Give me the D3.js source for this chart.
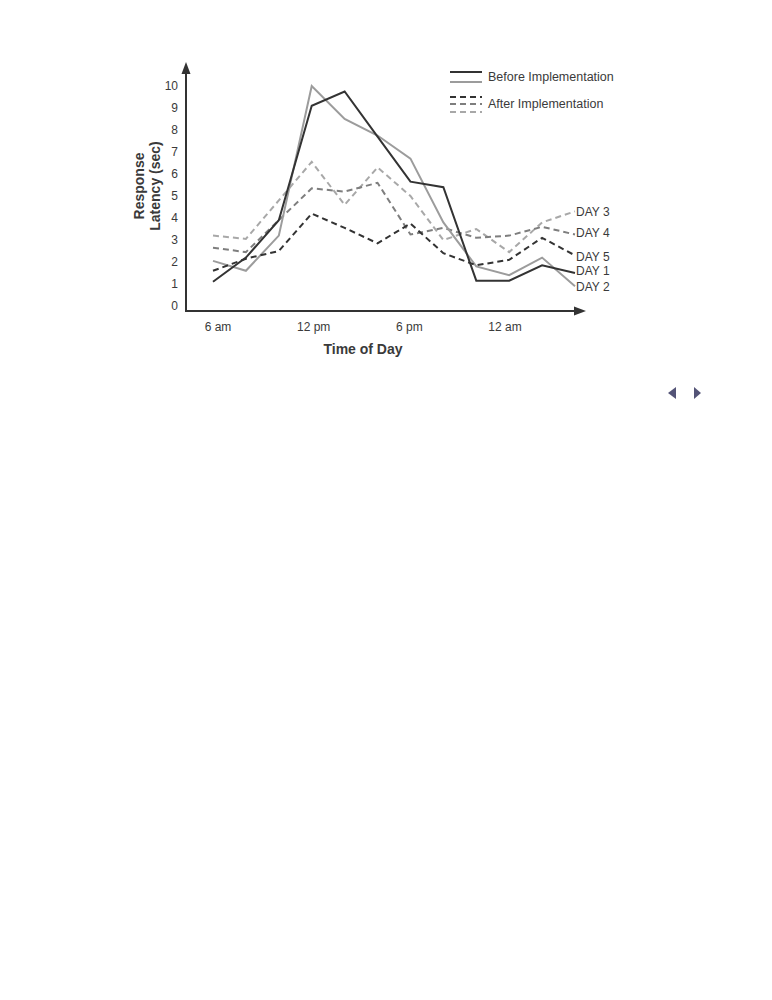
<!DOCTYPE html>
<html>
<head>
<meta charset="utf-8">
<script src="https://cdn.jsdelivr.net/npm/d3@7"></script>
<style>
  body { margin: 0; background: #fff; }
  text { font-family: "Liberation Sans", Arial, sans-serif; fill: #3a3a3a; }
</style>
</head>
<body>
<div id="chart"></div>
<script>
// hours of day (6 = 6 am, 24 = midnight, 28 = 4 am next day)
const hours = [6, 8, 10, 12, 14, 16, 18, 20, 22, 24, 26, 28];

const day1 = [1.1, 2.2, 3.9, 9.1, 9.75, 7.7, 5.65, 5.4, 1.15, 1.15, 1.85, 1.5];
const day2 = [2.05, 1.6, 3.2, 10.0, 8.5, 7.75, 6.7, 3.8, 1.8, 1.4, 2.2, 0.9];
const day3 = [3.2, 3.05, 4.8, 6.55, 4.6, 6.3, 5.0, 3.0, 3.5, 2.45, 3.8, 4.3];
const day4 = [2.65, 2.45, 3.9, 5.35, 5.2, 5.6, 3.25, 3.55, 3.1, 3.2, 3.6, 3.25];
const day5 = [1.6, 2.15, 2.5, 4.2, 3.55, 2.85, 3.75, 2.4, 1.85, 2.1, 3.1, 2.3];

const yTicks = [0, 1, 2, 3, 4, 5, 6, 7, 8, 9, 10];
const xTickHours = [6, 12, 18, 24];
const xTickLabels = ["6 am", "12 pm", "6 pm", "12 am"];

class LatencyChart {
    constructor() {
        this.svg = d3.select("#chart").append("svg")
            .attr("width", 772)
            .attr("height", 1000);

        // axis corner sits at (186, 311) on the page
        this.origin = { x: 186, y: 311 };
        this.xScale = d3.scaleLinear().domain([6, 28]).range([213, 575]);
        // the printed tick labels sit a little tighter than the data points
        this.tickScale = d3.scaleLinear().domain([6, 24]).range([218, 505]);
        this.yScale = d3.scaleLinear().domain([0, 10]).range([306, 86]);

        this.series = [
            { name: "DAY 1", values: day1, color: "#333", dash: null },
            { name: "DAY 2", values: day2, color: "#9c9c9c", dash: null },
            { name: "DAY 3", values: day3, color: "#a8a8a8", dash: "6,4" },
            { name: "DAY 4", values: day4, color: "#7e7e7e", dash: "6,4" },
            { name: "DAY 5", values: day5, color: "#333", dash: "6,4" }
        ];
    }

    draw() {
        this.drawAxes();
        this.drawLines();
        this.drawLegend();
        this.drawPager();
    }

    drawAxes() {
        const o = this.origin;
        const g = this.svg.append("g");

        // y axis line + arrow
        g.append("line")
            .attr("x1", o.x).attr("y1", o.y)
            .attr("x2", o.x).attr("y2", 70)
            .attr("stroke", "#333").attr("stroke-width", 2);
        g.append("path")
            .attr("d", `M${o.x},62 L${o.x - 4.5},74 L${o.x + 4.5},74 Z`)
            .attr("fill", "#333");

        // x axis line + arrow
        g.append("line")
            .attr("x1", o.x - 1).attr("y1", o.y)
            .attr("x2", 578).attr("y2", o.y)
            .attr("stroke", "#333").attr("stroke-width", 2);
        g.append("path")
            .attr("d", `M586,${o.y} L574,${o.y - 4.5} L574,${o.y + 4.5} Z`)
            .attr("fill", "#333");

        // y tick labels through d3 axis
        const yAxis = d3.axisLeft(this.yScale)
            .tickValues(yTicks)
            .tickSize(0)
            .tickPadding(0)
            .tickFormat(d3.format("d"));
        const ya = g.append("g")
            .attr("transform", `translate(178,0)`)
            .call(yAxis);
        ya.select(".domain").remove();
        ya.selectAll("text")
            .style("font-size", "12px")
            .style("font-family", "Liberation Sans, Arial, sans-serif")
            .attr("fill", "#3a3a3a");

        // x tick labels
        g.selectAll(".x-label")
            .data(xTickHours)
            .join("text")
            .attr("class", "x-label")
            .attr("x", d => this.tickScale(d))
            .attr("y", 331)
            .attr("text-anchor", "middle")
            .style("font-size", "12px")
            .text((d, i) => xTickLabels[i]);

        // axis titles
        g.append("text")
            .attr("x", 363)
            .attr("y", 354)
            .attr("text-anchor", "middle")
            .style("font-size", "14px")
            .style("font-weight", "bold")
            .attr("fill", "#222")
            .text("Time of Day");

        const yt = g.append("text")
            .attr("transform", "translate(144,186) rotate(-90)")
            .attr("text-anchor", "middle")
            .style("font-size", "14px")
            .style("font-weight", "bold")
            .attr("fill", "#222");
        yt.append("tspan").attr("x", 0).attr("dy", 0).text("Response");
        yt.append("tspan").attr("x", 0).attr("dy", "1.15em").text("Latency (sec)");
    }

    drawLines() {
        const line = d3.line()
            .x((d, i) => this.xScale(hours[i]))
            .y(d => this.yScale(d));

        // draw lighter lines first so the dark ones stay on top
        const order = [this.series[2], this.series[3], this.series[1], this.series[4], this.series[0]];

        this.svg.append("g")
            .selectAll("path")
            .data(order)
            .join("path")
            .attr("d", d => line(d.values))
            .attr("fill", "none")
            .attr("stroke", d => d.color)
            .attr("stroke-width", 2)
            .attr("stroke-dasharray", d => d.dash)
            .attr("stroke-linejoin", "miter");

        // day labels at the end of the lines
        const labelY = { "DAY 3": 4.3, "DAY 4": 3.35, "DAY 5": 2.25, "DAY 1": 1.6, "DAY 2": 0.9 };
        this.svg.append("g")
            .selectAll("text")
            .data(this.series)
            .join("text")
            .attr("x", this.xScale(28) + 1)
            .attr("y", d => this.yScale(labelY[d.name]))
            .attr("dy", "0.36em")
            .style("font-size", "12px")
            .text(d => d.name);
    }

    drawLegend() {
        const g = this.svg.append("g").attr("transform", "translate(450,0)");
        const swatches = [
            { y: 72, color: "#333", dash: null },
            { y: 82, color: "#9c9c9c", dash: null },
            { y: 97, color: "#333", dash: "6,4" },
            { y: 104, color: "#7e7e7e", dash: "6,4" },
            { y: 112, color: "#a8a8a8", dash: "6,4" }
        ];
        g.selectAll("line")
            .data(swatches)
            .join("line")
            .attr("x1", 0).attr("x2", 32)
            .attr("y1", d => d.y).attr("y2", d => d.y)
            .attr("stroke", d => d.color)
            .attr("stroke-width", 2)
            .attr("stroke-dasharray", d => d.dash);

        g.append("text").attr("x", 38).attr("y", 81)
            .style("font-size", "12.5px").text("Before Implementation");
        g.append("text").attr("x", 38).attr("y", 108)
            .style("font-size", "12.5px").text("After Implementation");
    }

    drawPager() {
        const g = this.svg.append("g").attr("fill", "#545477");
        g.append("path").attr("d", "M668,393 L676,387 L676,399 Z");
        g.append("path").attr("d", "M701,393 L694,387 L694,399 Z");
    }
}

const chart = new LatencyChart();
chart.draw();
</script>
</body>
</html>
